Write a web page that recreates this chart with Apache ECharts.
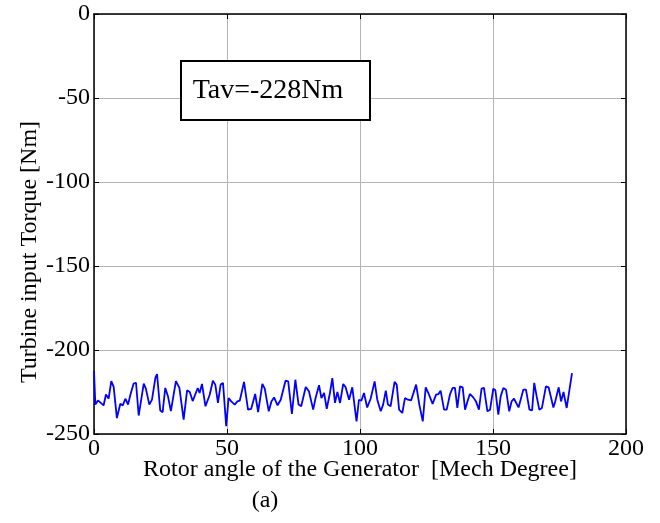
<!DOCTYPE html>
<html>
<head>
<meta charset="utf-8">
<script src="https://cdn.jsdelivr.net/npm/echarts@6/dist/echarts.min.js"></script>
<style>html,body{margin:0;padding:0;background:#fff}#c{width:660px;height:523px}</style>
</head>
<body>
<div id="c"></div>
<script>
var angleDeg = [0,0.5,1.5,3.6,4.5,5.5,6.5,7.4,8.6,9.9,10.8,11.8,12.8,13.7,14.9,15.8,16.8,18.7,19.5,20.8,21.8,23.1,23.7,24.9,25.8,26.8,27.8,28.9,30.8,32.1,33.7,35,36,37.1,37.8,39,39.7,40.6,41.9,42.6,43.5,44.7,45.6,46.6,47.6,48.5,49.7,50.6,51.6,52.9,53.9,54.8,56.4,57.9,59.1,60.6,61.7,63.3,64.2,65.7,66.7,67.7,69,70.2,72,73,74.4,75.7,76.9,77.9,79.6,80.8,82.4,83.3,84.6,85.5,86.5,87.5,88.7,89.6,90.6,91.5,92.5,93.7,94.6,95.9,97.1,97.7,98.7,99.6,100.5,101.5,102.7,104,105.5,106.5,107.8,108.7,109.7,110.5,111.5,113,113.8,114.7,115.9,116.9,118,119.2,121.1,122.3,123.6,124.7,125.7,127.3,128.6,129.5,130.3,131.6,132.6,133.8,134.8,135.7,136.6,137.6,138.6,139.5,140.4,141.3,142.6,143.6,144.7,145.7,146.6,147.9,148.9,150.1,150.9,152,152.9,153.9,154.9,156.1,157,157.9,158.3,159.6,161.4,162.4,163.7,164.7,165.5,166.4,167.4,168.4,169.9,170.9,172.7,173.4,174.7,175.6,176.5,177.7,179.7];
var torque = [-212.5,-232.5,-230,-233,-226.5,-229,-218.5,-222,-240.5,-232,-233,-229,-232.5,-226.5,-220,-219.5,-239,-220,-223,-232.5,-229.5,-216.5,-214.3,-236,-237,-222.6,-227.5,-236.4,-218.5,-222.6,-241.5,-224,-225,-230.4,-230.8,-222.6,-225.6,-220.2,-233.5,-234,-226.6,-218.3,-220.6,-231.5,-220.6,-219.6,-245.4,-228.6,-230.6,-232.5,-230.6,-230.2,-219,-235.5,-235,-226.2,-236.9,-220.2,-223,-236.5,-230.6,-228.2,-232.9,-229.6,-218.3,-218.7,-238.1,-217.7,-232.5,-233.5,-222,-224.6,-235.5,-228.6,-221,-228.6,-225.6,-235,-225.6,-216.7,-231.5,-225,-231.5,-220.2,-222.2,-229.6,-222.2,-222.6,-242.5,-229.6,-230.2,-225.6,-234.2,-229,-218.7,-229.6,-236.5,-232.5,-224.2,-232.5,-233.5,-219,-220.6,-235.5,-237.5,-228.6,-229.6,-230,-220.6,-232.5,-242.5,-222.2,-225.6,-232.1,-226.6,-226.2,-224.2,-235.5,-235.5,-226.6,-222.6,-222.6,-234.5,-221.6,-222.2,-235.5,-230.6,-226.2,-228.2,-230.6,-235.5,-223,-222.6,-236.5,-235.5,-223,-224,-238.5,-227.5,-222.6,-223.6,-236.5,-230.6,-229,-229,-234.2,-223.6,-223.6,-235.5,-236,-219.6,-227.5,-235.5,-234.5,-221.6,-222.2,-234.2,-230.6,-222.2,-230.6,-225,-234.5,-213.7];
var xTicks = [0,50,100,150,200];
var yTicks = [0,-50,-100,-150,-200,-250];
var xTitle = 'Rotor angle of the Generator  [Mech Degree]';
var yTitle = 'Turbine input Torque [Nm]';
var annotation = 'Tav=-228Nm';
var caption = '(a)';

var pts = angleDeg.map(function(a,i){return [a, torque[i]];});
var font = 'Liberation Serif';
var chart = echarts.init(document.getElementById('c'));
function axisCommon(){
  return {
    axisLine:{show:true,onZero:false,lineStyle:{color:'#000',width:1.5}},
    axisTick:{show:true,inside:true,length:5,lineStyle:{color:'#000'}}
  };
}
chart.setOption({
  animation:false,
  backgroundColor:'#fff',
  grid:{left:94,right:34,top:14,bottom:89,containLabel:false},
  xAxis:[
    Object.assign({type:'value',min:xTicks[0],max:xTicks[xTicks.length-1],interval:50,position:'bottom',
      axisLabel:{fontFamily:font,fontSize:24,color:'#000',margin:3},
      splitLine:{show:true,lineStyle:{color:'#b4b4b4',width:1}}},axisCommon()),
    Object.assign({type:'value',min:0,max:200,interval:50,position:'top',
      axisLabel:{show:false},splitLine:{show:false}},axisCommon())
  ],
  yAxis:[
    Object.assign({type:'value',min:yTicks[yTicks.length-1],max:yTicks[0],interval:50,position:'left',
      axisLabel:{fontFamily:font,fontSize:24,color:'#000',margin:4},
      splitLine:{show:true,lineStyle:{color:'#b4b4b4',width:1}}},axisCommon()),
    Object.assign({type:'value',min:-250,max:0,interval:50,position:'right',
      axisLabel:{show:false},splitLine:{show:false}},axisCommon())
  ],
  series:[{type:'line',data:pts,showSymbol:false,symbol:'none',
    lineStyle:{color:'#0000ff',width:1.8},xAxisIndex:0,yAxisIndex:0}],
  graphic:[
    {type:'text',x:360,y:470,style:{text:xTitle,font:'24px '+font,fill:'#000',
      textAlign:'center',textVerticalAlign:'middle'}},
    {type:'text',x:30,y:252,rotation:Math.PI/2,style:{text:yTitle,font:'24px '+font,fill:'#000',
      textAlign:'center',textVerticalAlign:'middle'}},
    {type:'rect',shape:{x:181,y:61,width:189,height:59},
      style:{fill:'#fff',stroke:'#000',lineWidth:2},z:100},
    {type:'text',x:268,y:90.5,style:{text:annotation,font:'28px '+font,fill:'#000',
      textAlign:'center',textVerticalAlign:'middle'},z:101},
    {type:'text',x:265,y:501,style:{text:caption,font:'24px '+font,fill:'#000',
      textAlign:'center',textVerticalAlign:'middle'},z:101}
  ]
});
</script>
</body>
</html>
